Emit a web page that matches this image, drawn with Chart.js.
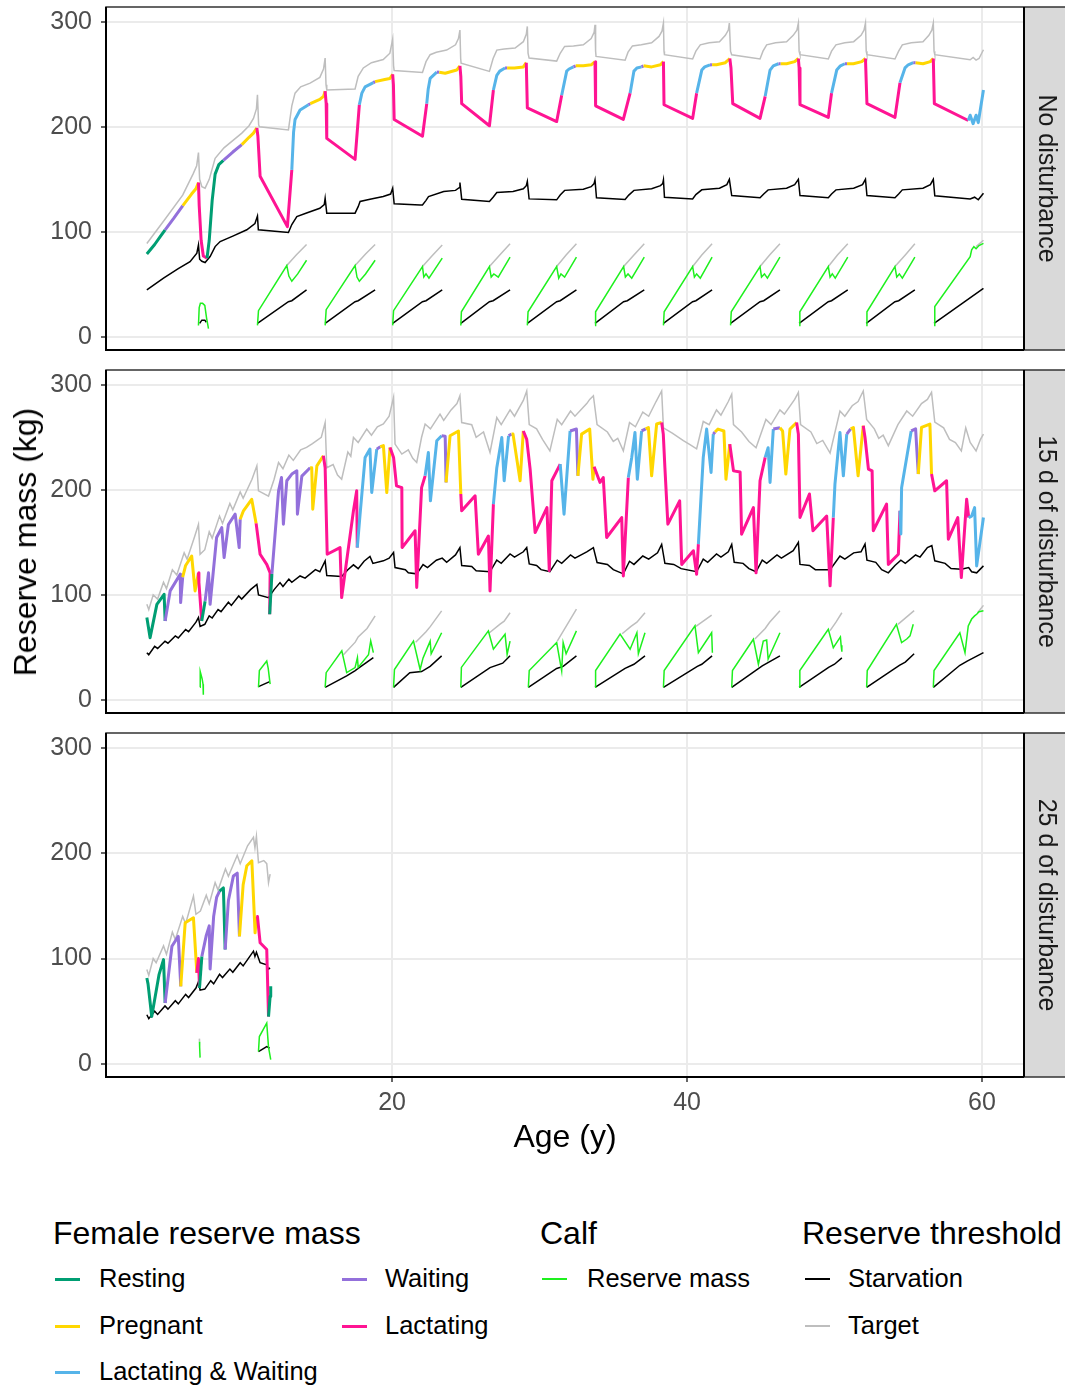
<!DOCTYPE html>
<html>
<head>
<meta charset="utf-8">
<script src="https://cdn.jsdelivr.net/npm/chart.js@4.4.1/dist/chart.umd.min.js"></script>
<style>
  body { margin: 0; background: #fff; font-family: "Liberation Sans", Arial, sans-serif; }
  #page { position: relative; width: 1065px; height: 1387px; overflow: hidden; background: #fff; }
  canvas { position: absolute; left: 0; }
  .txt { position: absolute; line-height: 1; white-space: nowrap; color: #000; }
  .key { position: absolute; width: 25px; }
</style>
</head>
<body>
<div id="page">
  <canvas id="p1" width="1065" height="360" style="top:0px"></canvas>
  <canvas id="p2" width="1065" height="360" style="top:363px"></canvas>
  <canvas id="p3" width="1065" height="400" style="top:726px"></canvas>
  <div class="txt" style="left:565px; top:1120px; font-size:32px; transform:translateX(-50%)">Age (y)</div>
  <div class="txt" style="left:25px; top:542px; font-size:32px; transform:translate(-50%,-50%) rotate(-90deg)">Reserve mass (kg)</div>
</div>
<script>
// axes
const xTicks = [20, 40, 60];
const yTicks = [0, 100, 200, 300];
const panelLabels = ['No disturbance', '15 d of disturbance', '25 d of disturbance'];

// female states: code, label, colour
const stateCodes = ['R', 'P', 'LW', 'W', 'L'];
const stateLabels = ['Resting', 'Pregnant', 'Lactating & Waiting', 'Waiting', 'Lactating'];
const stateColors = ['#009E73', '#FFD700', '#56B4E9', '#9370DB', '#FF1493'];
const calfColor = '#1EF01E';
const starveColor = '#000000';
const targetColor = '#BEBEBE';

// ---------- No disturbance ----------
const p1Female = [
  [3.37,79,'R'],[3.9,88,'R'],[4.3,96,'R'],[4.61,102,'W'],[5.2,113,'W'],[5.81,125,'P'],[6.4,136,'P'],[6.7,141,'P'],
  [6.87,147,'L'],[6.92,125,'L'],[7.05,92,'L'],[7.2,77,'L'],[7.45,75,'R'],[7.6,92,'R'],[7.8,130,'R'],[8.0,155,'R'],
  [8.25,164,'R'],[8.56,168,'W'],[9.2,176,'W'],[9.81,183,'P'],[10.3,190,'P'],[10.6,194,'P'],[10.83,199,'L'],
  [10.9,191,'L'],[11.05,153,'L'],[12.9,105,'L'],[13.2,159,'LW'],[13.32,195,'LW'],[13.42,207,'LW'],[13.76,216,'LW'],
  [14.33,221,'W'],[14.45,222,'P'],[15.1,226,'P'],[15.35,229,'P'],[15.46,234,'L'],[15.53,222,'L'],[15.57,189,'L'],
  [17.49,169,'L'],[17.78,221,'LW'],[17.95,232,'LW'],[18.17,238,'LW'],[18.73,242,'W'],[18.85,243,'P'],[19.5,245,'P'],
  [19.85,246,'P'],[20.04,250,'L'],[20.09,240,'L'],[20.14,207,'L'],[22.06,191,'L'],[22.35,222,'LW'],[22.45,236,'LW'],
  [22.58,246,'LW'],[23.03,252,'W'],[23.2,252,'P'],[23.6,251,'P'],[24.38,254,'P'],[24.6,258,'L'],[24.66,248,'L'],
  [24.72,222,'L'],[26.6,201,'L'],[26.87,235,'LW'],[27.1,249,'LW'],[27.3,253,'LW'],[27.66,256,'W'],[27.8,256,'P'],
  [28.3,256,'P'],[28.9,257,'P'],[29.1,261,'L'],[29.17,218,'L'],[31.16,205,'L'],[31.5,230,'LW'],[31.84,253,'LW'],
  [32.0,255,'LW'],[32.3,257,'W'],[32.45,258,'P'],[32.97,258,'P'],[33.5,259,'P'],[33.76,262,'L'],[33.8,220,'L'],
  [35.68,207,'L'],[36.14,232,'LW'],[36.4,253,'LW'],[36.6,256,'LW'],[36.92,257,'W'],[37.05,258,'P'],[37.6,257,'P'],
  [38.2,259,'P'],[38.4,262,'L'],[38.44,221,'L'],[40.38,208,'L'],[40.65,232,'LW'],[41.0,254,'LW'],[41.2,257,'LW'],
  [41.56,259,'W'],[41.7,259,'P'],[42.0,259,'P'],[42.6,261,'P'],[42.9,265,'L'],[42.98,256,'L'],[43.1,222,'L'],
  [44.95,208,'L'],[45.3,229,'LW'],[45.63,254,'LW'],[45.85,258,'LW'],[46.2,260,'W'],[46.35,260,'P'],[46.75,260,'P'],
  [47.3,262,'P'],[47.55,265,'L'],[47.6,256,'L'],[47.66,221,'L'],[49.58,209,'L'],[49.8,232,'LW'],[50.15,254,'LW'],
  [50.4,258,'LW'],[50.7,260,'W'],[50.85,260,'P'],[51.28,260,'P'],[51.85,262,'P'],[52.1,265,'L'],[52.2,222,'L'],
  [54.1,209,'L'],[54.44,242,'LW'],[54.78,256,'LW'],[55.0,259,'LW'],[55.34,261,'W'],[55.5,261,'P'],[56.0,260,'P'],
  [56.5,262,'P'],[56.7,265,'L'],[56.77,222,'L'],[59.07,206,'LW'],[59.2,211,'LW'],[59.4,203,'LW'],[59.6,211,'LW'],
  [59.75,204,'LW'],[60.1,235,'LW']
];
const p1Target = [
  [3.37,89],[4.6,112],[5.8,135],[6.5,155],[6.75,163],[6.87,175.5],[6.95,150],[7.1,143],[7.32,141.6],[7.6,150],
  [8.0,170],[8.6,180],[9.81,194],[10.3,201],[10.6,208],[10.8,217],[10.87,230.5],[10.95,202],[11.0,200],[12.97,197],
  [13.2,220],[13.42,232],[13.8,238],[14.44,241.6],[15.1,247],[15.35,255],[15.46,265.4],[15.52,240],[15.57,235],
  [17.49,236],[17.7,248],[18.05,256],[18.6,261],[19.4,264],[19.85,270],[20.04,283.5],[20.1,258],[20.14,253.6],
  [22.06,251.7],[22.3,262],[22.58,268.6],[23.0,271],[23.7,273],[24.3,278],[24.5,284],[24.6,292],[24.65,265],
  [24.68,260.6],[26.6,252.7],[26.85,265],[27.1,273],[27.6,274],[28.34,275],[28.9,281],[29.1,288],[29.17,295.5],
  [29.22,270],[29.29,265.4],[31.16,262.5],[31.4,270],[31.7,276.5],[32.3,277],[32.97,278],[33.5,284],[33.7,290],
  [33.76,297],[33.8,272],[33.83,267],[35.8,263.4],[36.0,271],[36.3,277],[36.9,278],[37.6,280],[38.1,286],[38.3,291],
  [38.4,298.7],[38.44,272],[38.47,268.6],[40.38,264.5],[40.6,272],[40.9,278],[41.5,280],[42.2,281],[42.6,287],
  [42.8,292],[42.87,298.7],[42.95,272],[43.03,268.6],[44.95,264.5],[45.15,272],[45.4,278],[46.0,280],[46.75,281],
  [47.2,287],[47.45,292],[47.55,298.7],[47.6,272],[47.66,268.6],[49.58,264.5],[49.8,272],[50.1,278],[50.7,280],
  [51.3,281],[51.8,287],[52.0,292],[52.1,298.7],[52.15,272],[52.2,268.6],[54.1,264.5],[54.35,272],[54.6,278],
  [55.2,280],[56.0,281],[56.4,287],[56.6,292],[56.7,298.7],[56.75,272],[56.8,268.6],[59.2,263.8],[59.4,266],
  [59.6,263.5],[59.8,265],[60.1,273.3]
];
const p1Starve = [
  [3.37,44.8],[4.5,56],[5.5,65],[6.3,71.7],[6.76,79.7],[6.87,87.6],[6.95,74],[7.1,72],[7.32,70.8],[7.66,76.5],
  [8.0,86],[8.34,90.8],[9.2,96],[10.15,102],[10.7,108],[10.87,115],[10.93,102],[12.97,99.4],[13.2,107],[13.54,114.6],
  [14.2,118],[15.1,122.5],[15.4,126],[15.46,132],[15.57,117.8],[17.49,117.8],[17.7,124],[17.83,128.9],[18.5,131],
  [19.4,133.6],[19.9,136],[20.04,141.6],[20.14,126.7],[21.9,125.7],[22.06,125.7],[22.3,130],[22.47,133.6],
  [23.5,138.4],[24.3,139.5],[24.55,142],[24.6,147],[24.72,131.1],[26.6,128.9],[26.85,133],[27.1,137.5],[28.2,138.5],
  [28.9,141],[29.1,144],[29.17,148],[29.29,131.4],[31.16,130.5],[31.4,135],[31.7,139.5],[32.97,140.5],[33.5,143],
  [33.7,146],[33.76,149.5],[33.86,132.4],[35.8,130.8],[36.05,135],[36.4,139.5],[37.6,141],[38.2,144],[38.35,146],
  [38.4,149.5],[38.47,133],[40.38,131.4],[40.6,135.5],[41.0,140],[42.2,141.5],[42.7,145],[42.87,150],[43.03,134.6],
  [44.95,132.4],[45.2,136],[45.5,140],[46.75,141.6],[47.3,145],[47.55,150],[47.66,134.6],[49.58,132.4],[49.8,136],
  [50.1,140],[51.3,141.6],[51.9,145],[52.1,150],[52.2,134.6],[54.1,132.4],[54.35,136],[54.6,140],[56.0,141.6],
  [56.5,145],[56.7,150],[56.8,134.3],[59.2,131.4],[59.5,133],[59.75,130.5],[60.1,136.8]
];
const p1CalfMass = [
  [6.87,11],[6.92,28],[7.0,32],[7.15,32],[7.3,30],[7.42,18],[7.55,8],null,
  [10.87,11],[10.94,25],[12.86,68],[13.0,58],[13.2,53],[13.6,60],[14.2,73],null,
  [15.46,11],[15.53,26],[17.49,68],[17.62,57],[17.78,53],[18.2,60],[18.85,73],null,
  [20.04,11],[20.1,25],[22.06,67],[22.15,57],[22.3,60],[22.5,56],[23.4,75],null,
  [24.66,11],[24.7,24],[26.6,67],[26.72,57],[26.9,60],[27.2,57],[28.0,76],null,
  [29.17,11],[29.22,24],[31.16,67],[31.3,56],[31.45,60],[31.7,57],[32.5,76],null,
  [33.76,11],[33.8,24],[35.7,67],[35.82,57],[36.0,60],[36.25,56],[37.1,76],null,
  [38.4,11],[38.45,24],[40.38,67],[40.5,57],[40.65,60],[40.9,56],[41.7,76],null,
  [42.95,11],[43.0,24],[44.95,67],[45.05,57],[45.25,60],[45.45,56],[46.3,76],null,
  [47.6,11],[47.65,24],[49.58,67],[49.7,57],[49.85,60],[50.05,56],[50.9,76],null,
  [52.15,11],[52.2,24],[54.1,67],[54.22,57],[54.4,60],[54.6,56],[55.45,76],null,
  [56.75,11],[56.8,29],[59.2,76.5],[59.3,83],[59.45,86],[59.6,84],[59.8,87],[60.1,89]
];
const p1CalfTarget = [
  [12.86,68],[13.5,78],[14.2,88],null,[17.49,68],[18.2,79],[18.85,88],null,[22.06,67],[22.7,77],[23.4,87.6],null,
  [26.6,67],[27.3,78],[28.0,88.6],null,[31.16,67],[31.8,78],[32.5,88.6],null,[35.7,67],[36.4,78],[37.1,88.6],null,
  [40.38,67],[41.0,78],[41.7,88.6],null,[44.95,67],[45.6,78],[46.3,88.6],null,[49.58,67],[50.2,78],[50.9,88.6],null,
  [54.1,67],[54.8,78],[55.45,88.6],null,[59.6,86],[60.1,92]
];
const p1CalfStarve = [
  [6.95,13],[7.1,16],[7.3,16],[7.4,14],null,
  [10.87,13],[12.97,33.6],[13.2,34.5],[14.2,44.8],null,
  [15.46,13],[17.49,33.6],[17.7,34.5],[18.85,44.8],null,
  [20.04,13],[22.06,33.6],[22.3,34.5],[23.4,44.8],null,
  [24.66,13],[26.6,33.6],[26.85,34.5],[28.0,44.8],null,
  [29.17,13],[31.16,33.6],[31.4,34.5],[32.5,44.8],null,
  [33.76,13],[35.7,33.6],[35.95,34.5],[37.1,44.8],null,
  [38.4,13],[40.38,33.6],[40.6,34.5],[41.7,44.8],null,
  [42.95,13],[44.95,33.6],[45.2,34.5],[46.3,44.8],null,
  [47.6,13],[49.58,33.6],[49.8,34.5],[50.9,44.8],null,
  [52.15,13],[54.1,33.6],[54.35,34.5],[55.45,44.8],null,
  [56.75,13],[60.1,46.3]
];

// ---------- 15 d of disturbance ----------
const p2Female = [
  [3.37,78.4,'R'],[3.59,59.3,'R'],[4.05,91,'R'],[4.54,100.6,'R'],[4.61,75.2,'W'],[4.95,103.8,'W'],[5.63,119.7,'W'],
  [5.66,92.7,'W'],[5.8,117,'P'],[6.0,128,'P'],[6.41,137,'P'],[6.64,103.8,'P'],[6.87,121,'L'],[6.9,112,'L'],
  [7.09,75.2,'R'],[7.32,94,'W'],[7.55,121,'W'],[7.66,91,'W'],[8.1,154.6,'W'],[8.45,164,'W'],[8.61,135.5,'W'],
  [8.9,167,'W'],[9.36,176.8,'W'],[9.63,145,'W'],[9.7,172,'P'],[9.92,180,'P'],[10.48,191,'P'],[10.78,168,'L'],
  [11.05,138.7,'L'],[11.5,129,'L'],[11.73,121,'L'],[11.7,81.6,'R'],[11.85,120,'W'],[12.3,199,'W'],[12.5,211.7,'W'],
  [12.63,167.3,'W'],[12.86,208.6,'W'],[13.2,215,'W'],[13.54,218,'W'],[13.58,176.8,'W'],[13.88,213,'W'],
  [14.44,221,'P'],[14.55,221,'P'],[14.62,181.6,'P'],[14.9,222.8,'P'],[15.34,232.4,'L'],[15.46,221,'L'],
  [15.6,138.7,'L'],[16.47,145,'L'],[16.58,97.4,'L'],[17.38,180,'L'],[17.6,199,'L'],[17.64,145,'LW'],
  [17.83,176.8,'LW'],[18.17,230.8,'LW'],[18.5,238.7,'LW'],[18.62,197.4,'LW'],[18.96,238.7,'W'],[19.2,241,'P'],
  [19.41,242,'P'],[19.64,197.4,'P'],[19.86,240.3,'L'],[20.1,230.8,'L'],[20.3,203.8,'L'],[20.66,202,'L'],
  [20.68,145,'L'],[21.56,161,'L'],[21.67,107,'L'],[22.0,202,'L'],[22.24,213.3,'LW'],[22.46,235.5,'LW'],
  [22.6,189.5,'LW'],[23.03,246.7,'LW'],[23.36,251.4,'W'],[23.6,251,'W'],[23.66,207,'P'],[23.93,251.4,'P'],
  [24.5,256,'P'],[24.66,196,'L'],[24.72,180,'L'],[25.63,194.3,'L'],[25.85,138.7,'L'],[26.53,156,'L'],
  [26.64,103.8,'L'],[26.87,186.4,'LW'],[27.1,221,'LW'],[27.44,249.8,'LW'],[27.6,208.6,'LW'],[27.9,251.4,'W'],
  [28.1,253,'P'],[28.2,253,'P'],[28.68,208.6,'P'],[28.9,256,'L'],[29.13,248,'L'],[29.36,219.7,'L'],
  [29.7,159.3,'L'],[30.5,183,'L'],[30.66,122.9,'L'],[30.83,208.6,'L'],[31.4,224.5,'LW'],[31.66,176.8,'LW'],
  [32.07,256,'W'],[32.5,257.8,'W'],[32.6,213.3,'P'],[32.85,253,'P'],[33.4,257.8,'P'],[33.62,210,'P'],
  [33.7,222,'L'],[34.1,207,'L'],[34.32,211.7,'L'],[34.55,154.6,'L'],[35.57,173.6,'L'],[35.68,118,'L'],
  [36.02,211.7,'LW'],[36.25,230.8,'LW'],[36.47,254.6,'LW'],[36.63,210,'LW'],[36.92,256,'W'],[37.2,258,'P'],
  [37.38,259.3,'P'],[37.6,213.3,'P'],[37.94,262.6,'P'],[38.28,264,'L'],[38.39,253,'L'],[38.5,221,'L'],
  [38.7,167.3,'L'],[39.5,189.5,'L'],[39.64,129,'L'],[40.43,142,'L'],[40.65,119.7,'L'],[40.77,148.3,'LW'],
  [41.1,230.8,'LW'],[41.33,257.8,'LW'],[41.63,216.5,'LW'],[41.78,253,'W'],[41.9,255,'P'],[42.1,257.8,'P'],
  [42.5,256,'P'],[42.64,210,'P'],[42.9,243.5,'L'],[43.15,218,'L'],[43.6,217,'L'],[43.7,157.8,'L'],[44.5,183,'L'],
  [44.68,121,'L'],[44.95,208.6,'L'],[45.3,230.8,'LW'],[45.5,240,'LW'],[45.63,207,'LW'],[45.85,257.8,'W'],
  [46.3,259,'P'],[46.48,256,'P'],[46.7,215,'P'],[46.98,257.8,'P'],[47.43,264,'L'],[47.55,253,'L'],
  [47.66,173.6,'L'],[48.3,196,'L'],[48.54,161,'L'],[49.47,175,'L'],[49.7,108.6,'L'],[49.92,173.6,'LW'],
  [50.03,205.4,'LW'],[50.37,254.6,'LW'],[50.6,213.3,'LW'],[50.83,253,'W'],[51.1,258,'P'],[51.28,259.3,'P'],
  [51.6,213.3,'P'],[51.95,261,'L'],[52.07,249.8,'L'],[52.3,219.7,'L'],[52.55,218,'L'],[52.63,161,'L'],
  [53.53,186.4,'L'],[53.65,129,'L'],[54.33,138.7,'L'],[54.44,180,'LW'],[54.5,158,'LW'],[54.55,202,'LW'],
  [55.2,256,'W'],[55.5,258,'W'],[55.68,215,'P'],[55.9,259.3,'P'],[56.47,262.6,'P'],[56.58,215,'L'],
  [56.8,199,'L'],[57.6,208.6,'L'],[57.72,153,'L'],[58.36,173.6,'L'],[58.6,116.5,'L'],[58.96,191,'L'],
  [59.1,173.6,'LW'],[59.3,175,'LW'],[59.5,183,'LW'],[59.64,127.6,'LW'],[60.1,173.6,'LW']
];
const p2Target = [
  [3.37,91],[3.5,86],[3.8,100],[4.1,96],[4.5,112],[4.7,106],[5.1,124],[5.4,119],[5.9,140],[6.1,134],[6.6,155],
  [6.87,167],[6.98,138.7],[7.3,143],[7.6,160],[7.8,154],[8.3,175],[8.5,168],[9.0,187],[9.2,181],[9.7,198],
  [9.9,192],[10.5,210],[10.83,222.8],[10.94,199],[11.62,194],[12.0,210],[12.3,226],[12.6,220],[13.0,233],
  [13.3,228],[13.8,238],[14.2,240.3],[14.6,244],[15.2,250],[15.46,264],[15.57,221],[16.0,224],[16.3,214],
  [16.58,210],[17.0,236],[17.2,232],[17.38,249.8],[17.7,245],[18.28,257.8],[18.6,252],[19.0,260],[19.41,262.6],
  [19.8,270],[20.1,288],[20.2,243.5],[20.66,234],[21.1,238],[21.4,230],[21.67,226],[22.0,250],[22.24,262.6],
  [22.6,258],[23.25,272],[23.5,266],[24.0,276],[24.4,282],[24.6,289.5],[24.72,264],[25.4,262],[25.7,250],
  [26.2,255],[26.64,235.5],[27.1,268.8],[27.4,262],[28.0,276],[28.3,270],[28.9,285],[29.13,294],[29.3,262],
  [29.8,258],[30.2,248],[30.7,237],[31.2,267],[31.5,262],[32.1,275],[32.4,270],[33.2,282],[33.4,286],
  [33.65,289.5],[33.9,262],[34.6,255],[35.0,246],[35.3,249],[35.68,237],[36.1,264],[36.5,260],[37.0,274],
  [37.4,270],[37.9,284],[38.28,294],[38.4,259],[39.0,254],[39.75,246.7],[40.2,243],[40.65,239],[41.1,265],
  [41.5,262],[42.0,276],[42.3,271],[42.8,284],[43.03,291],[43.15,262],[43.7,255],[44.2,246],[44.68,240],
  [45.35,267],[45.7,262],[46.3,276],[46.6,272],[47.3,286],[47.55,292.7],[47.7,262],[48.4,255],[48.8,244],
  [49.2,247],[49.7,235],[50.37,275],[50.7,270],[51.2,280],[51.6,284],[51.95,294],[52.18,267],[52.7,258],
  [53.0,249],[53.3,252],[53.65,242],[54.3,262],[54.9,275],[55.3,270],[55.9,282],[56.3,286],[56.58,292.7],
  [56.8,264.5],[57.4,259],[57.8,248],[58.2,245],[58.6,237],[58.9,259],[59.2,245],[59.6,237],[59.9,248],[60.1,253]
];
const p2Starve = [
  [3.37,45],[3.5,43],[3.9,51],[4.1,49],[4.6,56],[4.8,54],[5.3,61],[5.5,59],[6.0,67],[6.2,65],[6.7,74],
  [6.87,78.4],[6.98,70],[7.3,72],[7.6,80],[7.8,78],[8.2,86],[8.4,84],[8.9,93],[9.1,90],[9.6,99],[9.8,96],
  [10.4,105],[10.83,110],[10.94,100],[11.62,97.4],[12.0,105],[12.4,111.7],[12.6,108],[13.0,115],[13.2,112],
  [13.76,118],[14.1,116],[14.8,124],[15.1,122],[15.46,132.4],[15.57,118.5],[16.58,117.5],[17.0,124],
  [17.38,128.6],[17.7,125],[18.1,132],[18.5,136.5],[18.7,130],[19.41,132.4],[19.8,135],[20.1,140.3],[20.2,126],
  [20.9,124],[21.1,121],[21.67,120],[22.1,128.9],[22.4,126],[23.0,133],[23.4,135],[23.7,131],[24.3,138],
  [24.6,145],[24.72,128],[25.4,127],[25.7,123],[26.64,122],[27.1,133],[27.4,130],[28.0,139],[28.3,136],
  [28.9,141],[29.13,145],[29.3,129.5],[29.8,128],[30.1,124],[30.7,122],[31.2,133],[31.5,130],[32.1,138],
  [32.4,135],[33.2,141],[33.65,145],[33.9,130.8],[34.6,129],[35.0,124],[35.68,120],[36.1,132],[36.4,129],
  [37.0,137],[37.4,134],[38.0,140],[38.28,148],[38.5,130],[39.1,129],[39.6,125],[40.65,122],[41.1,134],
  [41.4,131],[42.0,139],[42.3,136],[42.8,141],[43.03,148],[43.2,131],[43.8,130],[44.2,125],[44.68,122],
  [45.1,133],[45.4,130],[46.1,138],[46.4,135],[47.2,142],[47.55,150],[47.66,129],[48.3,128],[48.7,124],
  [49.7,124],[50.37,137],[50.7,134],[51.3,140],[51.8,141],[52.07,148.3],[52.2,133],[52.8,131],[53.2,124],
  [53.65,121],[54.1,128],[54.5,133],[54.8,130],[55.5,138],[55.8,136],[56.3,145],[56.6,147],[56.8,132.4],
  [57.5,130],[57.9,125],[58.6,124.4],[59.1,126],[59.3,122],[59.64,121],[60.1,127.6]
];
const p2CalfMass = [
  [6.98,12],[6.99,27],[7.12,20],[7.18,15],[7.2,5],null,
  [10.94,12],[11.0,28],[11.5,37],[11.6,30],[11.73,15],null,
  [15.46,12],[15.53,26],[16.59,46.7],[16.92,26],[17.49,30.8],[17.65,40.3],[17.7,31],[18.4,43],[18.55,56.2],[18.73,45],null,
  [20.1,12],[20.16,29],[21.45,56],[21.9,29],[22.1,40],[22.58,56],[22.65,44],[23.36,64],null,
  [24.66,12],[24.7,31],[26.53,65.7],[26.87,48.3],[27.66,62.5],[27.8,43.5],[28.0,56],null,
  [29.24,12],[29.3,28],[31.16,54.6],[31.5,27.6],[31.6,54.6],[31.8,44],[32.5,65.7],null,
  [33.76,12],[33.8,28],[35.46,62.6],[36.14,48.3],[36.6,64],[36.7,44],[37.15,64],null,
  [38.4,12],[38.45,28],[40.54,70.5],[40.77,45],[41.67,64],[41.72,45],null,
  [43.03,12],[43.08,28],[44.5,57.8],[44.84,34],[45.17,56],[45.4,57],[45.5,39],[46.3,64],null,
  [47.6,12],[47.65,28],[49.58,67.3],[49.92,49.8],[50.4,60],[50.45,52],[50.5,46],null,
  [52.18,12],[52.22,28],[54.2,72],[54.55,54.6],[54.9,58],[55.12,61],[55.34,72],null,
  [56.7,12],[56.75,28],[58.5,64],[58.85,45],[59.07,70.5],[59.3,77],[59.5,80],[59.64,81.6],[59.8,84],[60.1,84.8]
];
const p2CalfTarget = [
  [16.7,43],[17.5,55],[17.7,60],[18.3,68],[18.85,80],null,
  [21.6,55],[22.3,65],[22.6,70],[23.36,84.8],null,
  [26.6,64],[27.3,72],[27.6,75],[28.0,83],null,
  [31.2,56],[31.8,70],[32.5,86.4],null,
  [35.6,63],[36.2,70],[36.6,74],[37.15,83],null,
  [40.6,70],[41.67,80.8],null,
  [44.6,58],[45.3,68],[45.6,74],[46.3,85],null,
  [49.7,66],[50.1,74],[50.5,83],null,
  [54.3,72],[55.4,85],null,
  [59.7,83],[60.1,90]
];
const p2CalfStarve = [
  [10.94,12.7],[11.7,17.5],null,
  [15.46,12],[16.92,22.9],[17.5,28],[17.7,30],[18.73,40.3],null,
  [20.1,12],[21.2,26],[22.0,27],[22.58,32],[23.36,42],null,
  [24.66,12],[26.64,30.8],[27.5,35],[28.0,42],null,
  [29.24,12],[31.16,30],[31.6,32],[32.5,42],null,
  [33.76,12],[35.8,30],[36.4,34],[37.15,42],null,
  [38.4,12],[40.7,32],[41.0,34],[41.7,42],null,
  [43.03,12],[45.1,32.4],[46.3,42],null,
  [47.6,12],[49.6,31],[50.0,34],[50.5,40],null,
  [52.18,12],[54.4,33],[54.8,36],[55.4,44],null,
  [56.7,12],[58.5,33],[59.0,37],[60.1,45]
];

// ---------- 25 d of disturbance ----------
const p3Female = [
  [3.37,81.6,'R'],[3.45,76,'R'],[3.7,45,'R'],[4.2,85,'R'],[4.5,99,'R'],[4.61,57.8,'W'],[5.07,111.7,'W'],
  [5.5,121,'W'],[5.67,73.6,'P'],[5.97,134,'P'],[6.53,138.7,'P'],[6.76,86.4,'L'],[6.87,100,'L'],[6.94,72,'R'],
  [7.1,102,'W'],[7.4,122,'W'],[7.6,131,'W'],[7.66,90,'W'],[7.9,140,'W'],[8.1,158,'W'],[8.3,164,'R'],
  [8.56,167,'R'],[8.68,108.6,'W'],[8.9,155,'W'],[9.24,178.4,'W'],[9.5,181,'W'],[9.65,121,'P'],[9.9,170,'P'],
  [10.15,188,'P'],[10.49,192.7,'P'],[10.71,124.4,'P'],[10.8,140,'L'],[10.87,140,'L'],[11.05,115,'L'],
  [11.5,108.6,'L'],[11.62,45,'R'],[11.73,64,'R'],[11.77,73.6,'R']
];
const p3Target = [
  [3.37,89.5],[3.5,84],[3.8,100],[4.0,96],[4.5,112],[4.7,104],[5.1,125],[5.3,118],[5.8,140],[6.0,133],
  [6.53,159.3],[6.7,142],[7.0,145],[7.4,160],[7.6,152],[8.0,172],[8.2,165],[8.7,185],[8.9,178],[9.5,198],
  [9.7,190],[10.2,207],[10.6,215],[10.7,205],[10.8,216],[10.94,191],[11.3,193],[11.5,190],[11.62,172],[11.73,180]
];
const p3Starve = [
  [3.37,46.7],[3.5,43],[3.9,50],[4.1,47],[4.6,55],[4.8,52],[5.3,60],[5.5,57],[6.0,66],[6.2,63],[6.7,72],
  [6.87,78],[6.98,70],[7.3,71],[7.7,79],[7.9,76],[8.3,85],[8.5,82],[9.0,90],[9.2,87],[9.7,96],[9.9,93],
  [10.4,103],[10.6,107],[10.7,102],[10.8,106],[11.05,96],[11.5,94],[11.6,90],[11.73,91]
];
const p3CalfMass = [
  [6.94,21],[6.95,16],[6.98,6],null,
  [10.94,11.7],[11.0,26],[11.5,38.7],[11.62,16],[11.77,4]
];
const p3CalfTarget = [[6.93,24],[6.94,21]];
const p3CalfStarve = [[10.94,11.7],[11.5,16.5],[11.7,15]];

const FONT = '"Liberation Sans", Arial, sans-serif';
Chart.defaults.font.family = FONT;

function toPts(arr) {
  let lastX = 0;
  return arr.map(p => {
    if (!p) return { x: lastX, y: null };
    lastX = p[0];
    return { x: p[0], y: p[1] };
  });
}

function lineSet(data, color, width) {
  return {
    data: toPts(data), borderColor: color, borderWidth: width,
    pointRadius: 0, tension: 0, spanGaps: false, fill: false
  };
}

function colorOf(code) {
  return stateColors[stateCodes.indexOf(code)];
}

// panel border, axis lines and the grey facet strip
const facetFrame = {
  id: 'facetFrame',
  afterDraw(chart, args, opts) {
    const { ctx, chartArea: a } = chart;
    ctx.save();
    ctx.fillStyle = '#D9D9D9';
    ctx.fillRect(a.right, a.top, chart.width - a.right, a.bottom - a.top);
    ctx.strokeStyle = '#333333';
    ctx.lineWidth = 1.5;
    ctx.strokeRect(a.left, a.top, chart.width - a.left + 2, a.bottom - a.top);
    ctx.strokeStyle = '#000';
    ctx.lineWidth = 2;
    ctx.beginPath();
    ctx.moveTo(a.left, a.top);
    ctx.lineTo(a.left, a.bottom);
    ctx.lineTo(a.right, a.bottom);
    ctx.stroke();
    ctx.beginPath();
    ctx.moveTo(a.right, a.top);
    ctx.lineTo(a.right, a.bottom);
    ctx.stroke();
    ctx.translate(a.right + 22, (a.top + a.bottom) / 2);
    ctx.rotate(Math.PI / 2);
    ctx.fillStyle = '#1A1A1A';
    ctx.font = '25px ' + FONT;
    ctx.textAlign = 'center';
    ctx.textBaseline = 'middle';
    ctx.fillText(opts.label, 0, 0);
    ctx.restore();
  }
};

function makePanel(id, label, female, target, starve, calfMass, calfTarget, calfStarve, showX, padBottom) {
  new Chart(document.getElementById(id), {
    type: 'line',
    data: {
      datasets: [
        {
          data: female.map(p => ({ x: p[0], y: p[1] })),
          borderWidth: 3, borderColor: stateColors[4], pointRadius: 0, tension: 0,
          borderJoinStyle: 'round', fill: false,
          segment: { borderColor: ctx => colorOf(female[ctx.p0DataIndex][2]) }
        },
        lineSet(calfMass, calfColor, 1.5),
        lineSet(calfStarve, starveColor, 1.5),
        lineSet(calfTarget, targetColor, 1.5),
        lineSet(starve, starveColor, 1.5),
        lineSet(target, targetColor, 1.5)
      ]
    },
    options: {
      responsive: false,
      animation: false,
      events: [],
      layout: { padding: { left: 0, right: 41, top: 7, bottom: padBottom } },
      plugins: { legend: { display: false }, tooltip: { enabled: false }, facetFrame: { label } },
      scales: {
        x: {
          type: 'linear', min: 0.6, max: 62.85,
          afterBuildTicks: s => { s.ticks = xTicks.map(v => ({ value: v })); },
          afterFit: s => { s.height = showX ? 40 : 0; s.paddingLeft = 0; s.paddingRight = 0; },
          grid: { color: '#EBEBEB', lineWidth: 2, drawTicks: showX, tickLength: 5, tickColor: '#333333', tickWidth: 1.5 },
          border: { display: false },
          ticks: { display: showX, color: '#4D4D4D', font: { size: 25 }, padding: 6, maxRotation: 0 }
        },
        y: {
          type: 'linear', min: -12.4, max: 314,
          afterBuildTicks: s => { s.ticks = yTicks.map(v => ({ value: v })); },
          afterFit: s => { s.width = 106; s.paddingTop = 0; s.paddingBottom = 0; },
          grid: { color: '#EBEBEB', lineWidth: 2, tickLength: 5, tickColor: '#333333', tickWidth: 1.5 },
          border: { display: false },
          ticks: { color: '#4D4D4D', font: { size: 25 }, padding: 9 }
        }
      }
    },
    plugins: [facetFrame]
  });
}

makePanel('p1', panelLabels[0], p1Female, p1Target, p1Starve, p1CalfMass, p1CalfTarget, p1CalfStarve, false, 10);
makePanel('p2', panelLabels[1], p2Female, p2Target, p2Starve, p2CalfMass, p2CalfTarget, p2CalfStarve, false, 10);
makePanel('p3', panelLabels[2], p3Female, p3Target, p3Starve, p3CalfMass, p3CalfTarget, p3CalfStarve, true, 9);

// legend
const page = document.getElementById('page');
function addText(text, left, centerY, size) {
  const d = document.createElement('div');
  d.className = 'txt';
  d.textContent = text;
  d.style.left = left + 'px';
  d.style.top = (centerY - size / 2) + 'px';
  d.style.fontSize = size + 'px';
  page.appendChild(d);
}
function addKey(left, centerY, color, h) {
  const k = document.createElement('div');
  k.className = 'key';
  k.style.left = left + 'px';
  k.style.top = (centerY - h / 2) + 'px';
  k.style.height = h + 'px';
  k.style.background = color;
  page.appendChild(k);
}
const legendRows = [1279, 1326, 1372];
addText('Female reserve mass', 53, 1233, 32);
addText('Calf', 540, 1233, 32);
addText('Reserve threshold', 802, 1233, 32);
// female states: first column Resting, Pregnant, Lactating & Waiting; second Waiting, Lactating
[0, 1, 2].forEach((s, i) => { addKey(55, legendRows[i], stateColors[s], 3); addText(stateLabels[s], 99, legendRows[i], 25.5); });
[3, 4].forEach((s, i) => { addKey(342, legendRows[i], stateColors[s], 3); addText(stateLabels[s], 385, legendRows[i], 25.5); });
addKey(542, legendRows[0], calfColor, 1.5); addText('Reserve mass', 587, legendRows[0], 25.5);
addKey(805, legendRows[0], starveColor, 1.5); addText('Starvation', 848, legendRows[0], 25.5);
addKey(805, legendRows[1], targetColor, 1.5); addText('Target', 848, legendRows[1], 25.5);
</script>
</body>
</html>
